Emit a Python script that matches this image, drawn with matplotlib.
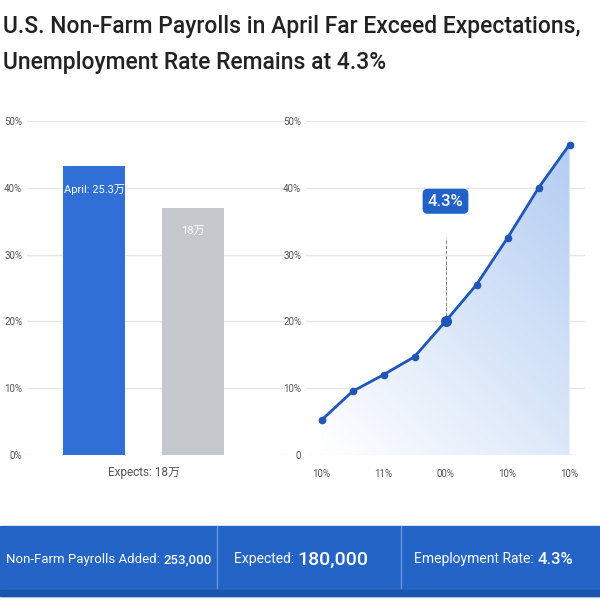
import matplotlib
matplotlib.use("Agg")
import matplotlib.pyplot as plt
import numpy as np
from matplotlib.patches import Rectangle
from matplotlib.colors import LinearSegmentedColormap

plt.rcParams['font.family'] = ['Roboto', 'Noto Sans CJK SC', 'DejaVu Sans']

bar_labels = ["April: 25.3万", "18万"]
bar_values = [43.3, 37.0]
bar_colors = ["#2f6fd6", "#c4c8cc"]
yticks = [0, 10, 20, 30, 40, 50]
left_yticklabels = ["0%", "10%", "20%", "30%", "40%", "50%"]
right_yticklabels = ["0", "10%", "20%", "30%", "40%", "50%"]
line_values = [5.2, 9.5, 12.0, 14.7, 20.0, 25.5, 32.5, 40.0, 46.5]
line_xticks = [0, 2, 4, 6, 8]
line_xticklabels = ["10%", "11%", "00%", "10%", "10%"]
highlight_idx = 4
highlight_label = "4.3%"
banner = [("Non-Farm Payrolls Added: ", "253,000"), ("Expected: ", "180,000"), ("Emeployment Rate: ", "4.3%")]

fig = plt.figure(figsize=(6, 6), dpi=100)
fig.patch.set_facecolor("white")
fig.text(0.005, 0.955, "U.S. Non-Farm Payrolls in April Far Exceed Expectations,", fontsize=16.5, color="#222222", va="center", weight="medium")
fig.text(0.005, 0.895, "Unemployment Rate Remains at 4.3%", fontsize=16.5, color="#222222", va="center", weight="medium")

grid_c = "#e6e6e6"
ax1 = fig.add_axes([0.045, 0.242, 0.43, 0.556])
ax1.bar([0, 1], bar_values, color=bar_colors, width=0.63)
for i, (l, v) in enumerate(zip(bar_labels, bar_values)):
    ax1.text(i, v - 3.5, l, color="white", ha="center", va="center", fontsize=8)
ax1.set_ylim(0, 50)
ax1.set_xlim(-0.68, 1.93)
ax1.set_yticks(yticks, left_yticklabels)
ax1.set_xticks([0.5], ["Expects: 18万"])
ax1.grid(axis="y", color=grid_c, lw=1)
ax1.set_axisbelow(True)
for s in ax1.spines.values():
    s.set_visible(False)
ax1.tick_params(length=0, labelsize=7, colors="#555555")
ax1.tick_params(axis="x", labelsize=8.5, pad=8)

ax2 = fig.add_axes([0.51, 0.242, 0.465, 0.556])
x = np.arange(len(line_values))
ax2.plot(x, line_values, color="#1f56b8", lw=2, marker="o", ms=4.5, zorder=3)
ax2.plot([x[highlight_idx]], [line_values[highlight_idx]], "o", color="#1f56b8", ms=7, zorder=3)
cmap = LinearSegmentedColormap.from_list("g", ["#ffffff", "#b3cdf2"])
gx, gy = np.meshgrid(np.linspace(0, 1, 64), np.linspace(0, 1, 128))
grad = 0.55 * gy + 0.45 * gx
im = ax2.imshow(grad, extent=[x[0], x[-1], 0, max(line_values)], aspect="auto", cmap=cmap,
                vmin=0, vmax=1, origin="lower", zorder=1)
poly = ax2.fill_between(x, line_values, 0, color="none")
im.set_clip_path(poly.get_paths()[0], transform=ax2.transData)
ax2.plot([x[highlight_idx]] * 2, [line_values[highlight_idx], 32.5], ls="--", color="#888888", lw=0.7)
ax2.text(x[highlight_idx], 38, highlight_label, ha="center", va="center", color="white", fontsize=12,
         weight="medium", bbox=dict(boxstyle="round,pad=0.3", fc="#2062c8", ec="none"))
ax2.set_ylim(0, 50)
ax2.set_xlim(-0.5, 8.5)
ax2.set_yticks(yticks, right_yticklabels)
ax2.set_xticks(line_xticks, line_xticklabels)
ax2.grid(axis="y", color=grid_c, lw=1)
ax2.set_axisbelow(True)
for s in ax2.spines.values():
    s.set_visible(False)
ax2.tick_params(length=0, labelsize=7, colors="#555555")
ax2.tick_params(axis="x", pad=10)

bx = fig.add_axes([0, 0.0, 1, 0.13])
bx.set_xlim(0, 1); bx.set_ylim(0, 1); bx.axis("off")
bx.add_patch(Rectangle((0, 0.05), 1, 0.9, color="#2464c6"))
bx.add_patch(Rectangle((0, 0.05), 1, 0.08, color="#1c55ae"))
for d in [0.362, 0.668]:
    bx.plot([d, d], [0.15, 0.95], color="#6a95dd", lw=1)
positions = [(0.01, 9.5, 9.5), (0.39, 10, 14), (0.69, 10, 12)]
fig.canvas.draw()
for (a, b), (x0, fs1, fs2) in zip(banner, positions):
    t1 = bx.text(x0, 0.52, a, ha="left", va="center", color="white", fontsize=fs1)
    fig.canvas.draw()
    bb = t1.get_window_extent().transformed(bx.transAxes.inverted())
    bx.text(bb.x1, 0.52, b, ha="left", va="center", color="white", fontsize=fs2, weight="medium")

fig.savefig("out.png", dpi=100)
